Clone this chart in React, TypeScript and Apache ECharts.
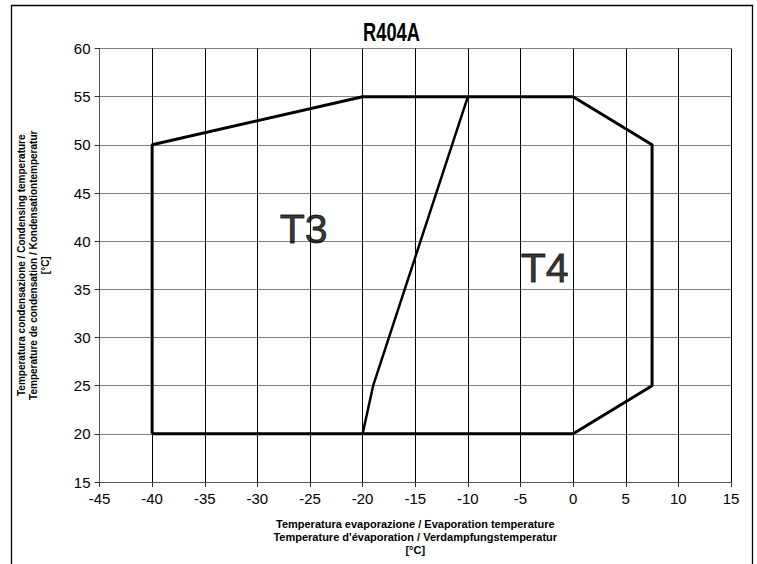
import React, { useEffect, useRef } from "react";
import * as echarts from "echarts";

const chartTitle = "R404A";
const xTitle = "Temperatura evaporazione / Evaporation temperature\nTemperature d'évaporation / Verdampfungstemperatur\n[°C]";
const yTitle = "Temperatura condensazione / Condensing temperature\nTemperature de condensation / Kondensationtemperatur\n[°C]";

const envelopeX = [-40, -40, -20, 0, 7.5, 7.5, 0, -40];
const envelopeY = [20, 50, 55, 55, 50, 25, 20, 20];
const dividerX = [-20, -19, -10];
const dividerY = [20, 25, 55];
const zoneNames = ["T3", "T4"];
const zoneX = [-25.6, -2.7];
const zoneY = [41.3, 37.2];

export default function App() {
  const ref = useRef<HTMLDivElement>(null);
  useEffect(() => {
    if (!ref.current) return;
    const chart = echarts.init(ref.current, null, { renderer: "svg" });
    const envelope = envelopeX.map((x, i) => [x, envelopeY[i]]);
    const divider = dividerX.map((x, i) => [x, dividerY[i]]);
    const zones = zoneNames.map((n, i) => ({ name: n, value: [zoneX[i], zoneY[i]] }));
    chart.setOption({
      animation: false,
      backgroundColor: "#fff",
      graphic: [
        {
          type: "rect",
          shape: { x: 11.5, y: 5.5, width: 741, height: 620 },
          style: { fill: "none", stroke: "#000", lineWidth: 1.3 },
          silent: true,
        },
        {
          type: "text",
          x: 391.5,
          y: 32,
          scaleX: 0.73,
          style: {
            text: chartTitle,
            fontFamily: "'Liberation Sans', Arial, sans-serif",
            fontWeight: "bold",
            fontSize: 25,
            fill: "#000",
            align: "center",
            verticalAlign: "middle",
          },
        },
      ],
      grid: { left: 99.5, right: 26, top: 48.5, bottom: 82, containLabel: false },
      xAxis: {
        type: "value",
        min: -45,
        max: 15,
        interval: 5,
        name: xTitle,
        nameLocation: "middle",
        nameGap: 35,
        nameTextStyle: {
          fontFamily: "'Liberation Sans', Arial, sans-serif",
          fontWeight: "bold",
          fontSize: 11,
          lineHeight: 13,
          color: "#000",
          verticalAlign: "top",
        },
        axisLine: { show: true, onZero: false, lineStyle: { color: "#555", width: 1 } },
        axisTick: { show: true, length: 5, lineStyle: { color: "#333" } },
        axisLabel: {
          margin: 9,
          fontFamily: "'Liberation Sans', Arial, sans-serif",
          fontSize: 15,
          color: "#000",
        },
        splitLine: { show: true, lineStyle: { color: "#000", width: 1 } },
      },
      yAxis: {
        type: "value",
        min: 15,
        max: 60,
        interval: 5,
        name: yTitle,
        nameLocation: "middle",
        nameRotate: 90,
        nameGap: 48,
        nameTextStyle: {
          fontFamily: "'Liberation Sans', Arial, sans-serif",
          fontWeight: "bold",
          fontSize: 10,
          lineHeight: 12,
          color: "#000",
        },
        axisLine: { show: true, onZero: false, lineStyle: { color: "#555", width: 1 } },
        axisTick: { show: true, length: 5, lineStyle: { color: "#333" } },
        axisLabel: {
          margin: 9,
          fontFamily: "'Liberation Sans', Arial, sans-serif",
          fontSize: 15,
          color: "#000",
        },
        splitLine: { show: true, lineStyle: { color: "#808080", width: 1.2 } },
      },
      series: [
        {
          type: "line",
          data: envelope,
          symbol: "none",
          lineStyle: { color: "#000", width: 3 },
          silent: true,
        },
        {
          type: "line",
          data: divider,
          symbol: "none",
          lineStyle: { color: "#000", width: 2.5 },
          silent: true,
        },
        {
          type: "scatter",
          data: zones,
          symbolSize: 1,
          itemStyle: { color: "transparent" },
          label: {
            show: true,
            position: "inside",
            formatter: "{b}",
            fontFamily: "'Liberation Sans', Arial, sans-serif",
            fontSize: 41,
            color: "#000",
            textBorderColor: "#000",
            textBorderWidth: 0.8,
          },
          silent: true,
        },
      ],
    });
    return () => chart.dispose();
  }, []);
  return (
    <div
      ref={ref}
      style={{ position: "absolute", left: 0, top: 0, width: 757, height: 564 }}
    />
  );
}
